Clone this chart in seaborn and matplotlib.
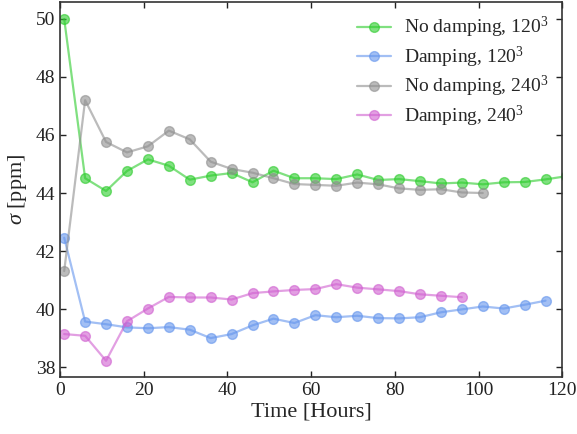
import numpy as np
import pandas as pd
import matplotlib
matplotlib.use("Agg")
import matplotlib.pyplot as plt
import seaborn as sns

times_green = [1, 6, 11, 16, 21, 26, 31, 36, 41, 46, 51, 56, 61, 66, 71, 76, 81, 86, 91, 96, 101, 106, 111, 116, 121]
nodamp_120 = [50.0, 44.51, 44.07, 44.76, 45.16, 44.94, 44.46, 44.60, 44.69, 44.37, 44.77, 44.51, 44.51, 44.48,
              44.64, 44.45, 44.48, 44.41, 44.33, 44.36, 44.30, 44.37, 44.38, 44.47, 44.58]
times_blue = [1, 6, 11, 16, 21, 26, 31, 36, 41, 46, 51, 56, 61, 66, 71, 76, 81, 86, 91, 96, 101, 106, 111, 116]
damp_120 = [42.46, 39.57, 39.48, 39.37, 39.34, 39.38, 39.29, 39.00, 39.14, 39.44, 39.67, 39.52, 39.79, 39.72,
            39.77, 39.69, 39.68, 39.72, 39.89, 39.99, 40.09, 40.02, 40.15, 40.29]
times_gray = [1, 6, 11, 16, 21, 26, 31, 36, 41, 46, 51, 56, 61, 66, 71, 76, 81, 86, 91, 96, 101]
nodamp_240 = [41.31, 47.20, 45.76, 45.40, 45.61, 46.15, 45.85, 45.08, 44.83, 44.70, 44.51, 44.31, 44.28, 44.25,
              44.36, 44.30, 44.16, 44.11, 44.13, 44.02, 44.00]
times_pink = [1, 6, 11, 16, 21, 26, 31, 36, 41, 46, 51, 56, 61, 66, 71, 76, 81, 86, 91, 96]
damp_240 = [39.14, 39.08, 38.22, 39.58, 40.02, 40.42, 40.40, 40.40, 40.33, 40.55, 40.61, 40.66, 40.69, 40.86,
            40.74, 40.68, 40.62, 40.51, 40.46, 40.41]

labels = ["No damping, 120$^3$", "Damping, 120$^3$", "No damping, 240$^3$", "Damping, 240$^3$"]
colors = ["#2ccc2c", "#6495ed", "#8f8f8f", "#d060d0"]

frames = []
for lab, t, v in zip(labels, [times_green, times_blue, times_gray, times_pink],
                     [nodamp_120, damp_120, nodamp_240, damp_240]):
    frames.append(pd.DataFrame({"t": t, "v": v, "series": lab}))
df = pd.concat(frames, ignore_index=True)

sns.set_style("ticks")
plt.rcParams["font.family"] = ["Liberation Serif"]
plt.rcParams["mathtext.fontset"] = "custom"
plt.rcParams["mathtext.rm"] = "Liberation Serif"
plt.rcParams["mathtext.it"] = "Liberation Serif:italic"

fig = plt.figure(figsize=(5.77, 4.34), dpi=100)
ax = fig.add_axes([0.104, 0.132, 0.8705, 0.8645])

sns.lineplot(data=df, x="t", y="v", hue="series", hue_order=labels, palette=colors,
             marker="o", markersize=7, linewidth=1.6, alpha=0.6, ax=ax, sort=False)
for ln in ax.lines:
    ln.set_markeredgecolor(ln.get_color())
    ln.set_markeredgewidth(1.0)

ax.set_xlim(0, 120)
ax.set_ylim(37.67, 50.6)
ax.set_xticks([0, 20, 40, 60, 80, 100, 120])
ax.set_yticks([38, 40, 42, 44, 46, 48, 50])
ax.tick_params(direction="in", top=True, right=True, labelsize=14, length=4, width=1, colors="#222222")
for s in ax.spines.values():
    s.set_color("#333333")
    s.set_linewidth(1.2)
ax.set_xlabel("Time [Hours]", fontsize=16, labelpad=3)
ax.set_ylabel(r"$\sigma$ [ppm]", fontsize=16, labelpad=5)

leg = ax.legend(loc="upper right", frameon=False, fontsize=14, handlelength=1.75,
                labelspacing=0.22, borderaxespad=0.3, handletextpad=0.7)
for h in leg.legend_handles:
    h.set_markeredgecolor(h.get_color())

fig.savefig("out.png", dpi=100)
